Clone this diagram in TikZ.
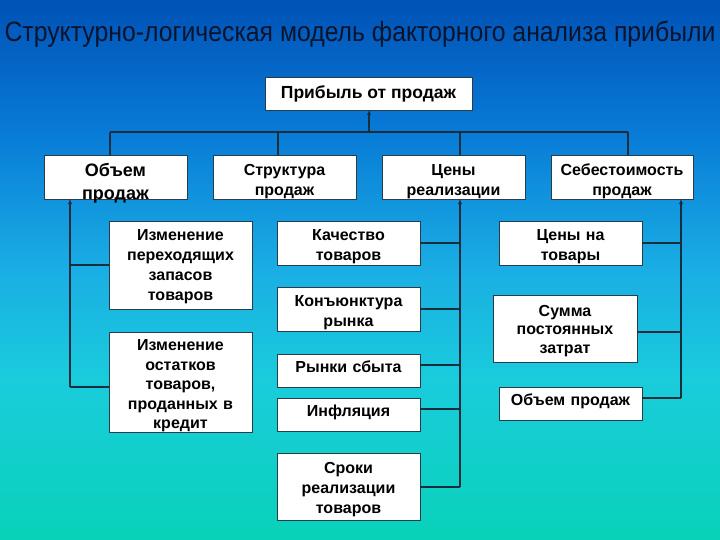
\documentclass[tikz,border=0pt]{standalone}
\usepackage{fontspec}
\setmainfont{Liberation Sans}
\newfontfamily\titlefont[FakeStretch=0.885]{Liberation Sans}
\usetikzlibrary{arrows.meta}
\definecolor{bgA}{RGB}{0,82,182}
\definecolor{bgB}{RGB}{8,122,214}
\definecolor{bgC}{RGB}{26,174,228}
\definecolor{bgD}{RGB}{26,204,220}
\definecolor{bgE}{RGB}{8,210,184}
\definecolor{edge}{RGB}{40,60,75}
\definecolor{wire}{RGB}{25,45,60}
\definecolor{titlec}{RGB}{10,20,45}
% 100bp shading: the path's box maps onto 25bp..75bp
\pgfdeclareverticalshading{bgshade}{100bp}{color(0bp)=(bgE); color(25bp)=(bgE); color(39.8bp)=(bgD); color(50bp)=(bgC); color(63bp)=(bgB); color(75bp)=(bgA); color(100bp)=(bgA)}
\newcommand{\lowr}[1][18.8pt]{\rule{0pt}{#1}}
\newcommand{\liftr}{\rule[-7.5pt]{0pt}{0pt}}
\tikzset{
  box/.style={draw=edge, line width=0.8pt, fill=white, inner sep=0pt, align=center,
    font=\bfseries\fontsize{16}{20.5}\selectfont},
  wire/.style={draw=wire, line width=1.1pt},
  up/.style={wire, -{Stealth[length=5pt,width=4pt]}}
}
\begin{document}
\begin{tikzpicture}[x=1pt,y=-1pt]
\useasboundingbox (0,0) rectangle (720,540);
\shade[shading=bgshade] (0,0) rectangle (720,540);
\node[font=\titlefont\fontsize{28}{32}\selectfont, text=titlec, anchor=base, inner sep=0pt] (title) at (360,42) {Структурно-логическая модель факторного анализа прибыли};

\node[box, minimum width=207pt, minimum height=33pt, font=\bfseries\fontsize{17.5}{21}\selectfont] (top) at (368.5,93.5) {Прибыль от продаж};

\node[box, minimum width=143pt, minimum height=44pt, text width=143pt, text height=13pt, text depth=13pt, font=\bfseries\fontsize{18}{23}\selectfont] (obj) at (115.5,177) {Объем\\продаж};
\node[box, minimum width=143pt, minimum height=44pt, text width=143pt, font=\bfseries\fontsize{16}{20}\selectfont] (str) at (284.5,177) {\lowr[19.6pt]Структура\\продаж};
\node[box, minimum width=143pt, minimum height=44pt, text width=143pt, font=\bfseries\fontsize{16}{20}\selectfont] (cen) at (453.5,177) {\lowr[19.6pt]Цены\\реализации};
\node[box, minimum width=142pt, minimum height=44pt, text width=142pt, font=\bfseries\fontsize{16}{20}\selectfont] (seb) at (622,177) {\lowr[19.6pt]Себестоимость\\продаж};

\node[box, minimum width=143pt, minimum height=88pt, text width=143pt, font=\bfseries\fontsize{16}{20}\selectfont] (izm1) at (180.5,265) {\lowr[14.6pt]Изменение\\переходящих\\запасов\\товаров};
\node[box, minimum width=143pt, minimum height=99pt, text width=143pt, font=\bfseries\fontsize{16}{19.5}\selectfont] (izm2) at (180.5,382) {\lowr Изменение\\остатков\\товаров,\\проданных в\\кредит};

\node[box, minimum width=143pt, minimum height=44pt, text width=143pt] (kach) at (348.5,243) {\lowr Качество\\товаров};
\node[box, minimum width=143pt, minimum height=44pt, text width=143pt] (konj) at (348.5,309) {\lowr Конъюнктура\\рынка};
\node[box, minimum width=143pt, minimum height=33pt, text width=143pt] (ryn) at (348.5,370.5) {Рынки сбыта\liftr};
\node[box, minimum width=143pt, minimum height=33pt, text width=143pt] (infl) at (348.5,414.5) {Инфляция\liftr};
\node[box, minimum width=143pt, minimum height=67pt, text width=143pt, font=\bfseries\fontsize{16}{20}\selectfont] (srok) at (348.5,486.5) {\lowr[18pt]Сроки\\реализации\\товаров};

\node[box, minimum width=143pt, minimum height=44pt, text width=143pt] (cent) at (570.5,243) {\lowr Цены на\\товары};
\node[box, minimum width=144pt, minimum height=67pt, text width=144pt, font=\bfseries\fontsize{16}{18.7}\selectfont] (summ) at (565,328.5) {\lowr[16pt]Сумма\\постоянных\\затрат};
\node[box, minimum width=143pt, minimum height=33pt, text width=143pt] (obj2) at (570.5,403.5) {Объем продаж\liftr};

% top tree
\coordinate (hT) at (369,132);
\coordinate (h1) at (110,132);
\coordinate (h2) at (278,132);
\coordinate (h3) at (460,132);
\coordinate (h4) at (628,132);
\draw[up] (hT) -- (hT |- top.south);
\draw[wire] (h1) -- (h4);
\draw[wire] (h1) -- (h1 |- obj.north);
\draw[wire] (h2) -- (h2 |- str.north);
\draw[wire] (h3) -- (h3 |- cen.north);
\draw[wire] (h4) -- (h4 |- seb.north);

% left branch
\coordinate (lb) at (70,387);
\draw[up] (lb) -- (lb |- obj.south);
\draw[wire] (lb) -- (lb -| izm2.west);
\draw[wire] (izm1.west) -- (izm1.west -| lb);

% middle branch
\coordinate (mb) at (460,487);
\draw[up] (mb) -- (mb |- cen.south);
\draw[wire] (kach.east) -- (kach.east -| mb);
\draw[wire] (konj.east) -- (konj.east -| mb);
\draw[wire] ([yshift=5.5pt]ryn.east) -- ([yshift=5.5pt]ryn.east -| mb);
\draw[wire] ([yshift=5.5pt]infl.east) -- ([yshift=5.5pt]infl.east -| mb);
\draw[wire] (mb) -- (mb -| srok.east);

% right branch
\coordinate (rb) at (681,398);
\draw[up] (rb) -- (rb |- seb.south);
\draw[wire] (cent.east) -- (cent.east -| rb);
\draw[wire] ([yshift=-3.5pt]summ.east) -- ([yshift=-3.5pt]summ.east -| rb);
\draw[wire] (rb) -- (rb -| obj2.east);
\end{tikzpicture}
\end{document}
